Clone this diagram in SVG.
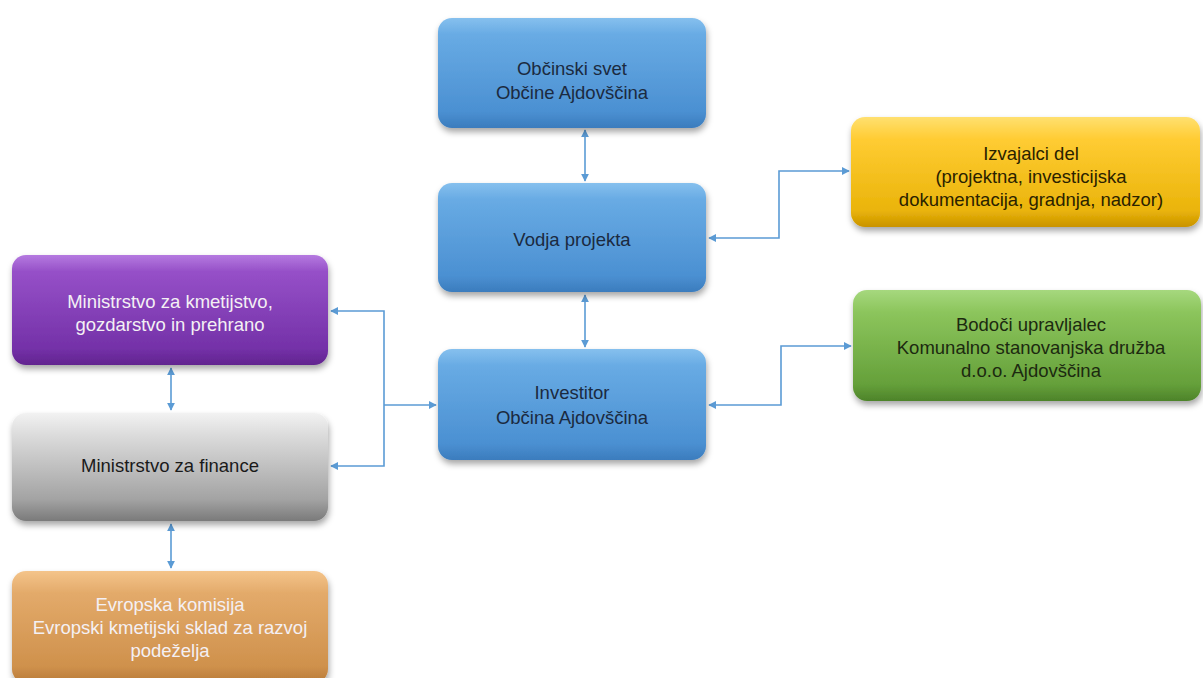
<svg xmlns="http://www.w3.org/2000/svg" width="1203" height="678" viewBox="0 0 1203 678">
<defs>
<style>
.t{font-family:"Liberation Sans",Arial,sans-serif;font-size:18.5px;text-anchor:middle}
.dk{fill:#1b2a40}
.lt{fill:#f4f0f4}
.c{fill:none;stroke:#5b9bd5;stroke-width:1.6}
</style>
<filter id="sh" x="-10%" y="-10%" width="120%" height="130%">
<feDropShadow dx="1" dy="4" stdDeviation="3" flood-color="#000" flood-opacity="0.35"/>
</filter>
<linearGradient id="gBlue" x1="0" y1="0" x2="0" y2="1">
<stop offset="0" stop-color="#86c0ee"/><stop offset="0.15" stop-color="#68abe4"/><stop offset="0.85" stop-color="#4b90d2"/><stop offset="1" stop-color="#3b7cbd"/>
</linearGradient>
<linearGradient id="gPurple" x1="0" y1="0" x2="0" y2="1">
<stop offset="0" stop-color="#b57ae0"/><stop offset="0.15" stop-color="#9650c8"/><stop offset="0.85" stop-color="#7431a8"/><stop offset="1" stop-color="#62248f"/>
</linearGradient>
<linearGradient id="gGray" x1="0" y1="0" x2="0" y2="1">
<stop offset="0" stop-color="#f2f2f2"/><stop offset="0.2" stop-color="#dcdcdc"/><stop offset="0.8" stop-color="#a3a3a3"/><stop offset="1" stop-color="#7a7a7a"/>
</linearGradient>
<linearGradient id="gYellow" x1="0" y1="0" x2="0" y2="1">
<stop offset="0" stop-color="#ffe070"/><stop offset="0.2" stop-color="#ffcc33"/><stop offset="0.85" stop-color="#eab40a"/><stop offset="1" stop-color="#c99300"/>
</linearGradient>
<linearGradient id="gGreen" x1="0" y1="0" x2="0" y2="1">
<stop offset="0" stop-color="#a6d87e"/><stop offset="0.2" stop-color="#8cc55c"/><stop offset="0.85" stop-color="#65a03a"/><stop offset="1" stop-color="#4d832a"/>
</linearGradient>
<linearGradient id="gOrange" x1="0" y1="0" x2="0" y2="1">
<stop offset="0" stop-color="#f4c48a"/><stop offset="0.2" stop-color="#e3aa6a"/><stop offset="0.85" stop-color="#cf914c"/><stop offset="1" stop-color="#b87a38"/>
</linearGradient>
<marker id="ah" viewBox="0 0 10 10" refX="9" refY="5" markerWidth="8" markerHeight="8" markerUnits="userSpaceOnUse" orient="auto-start-reverse">
<path d="M0,0 L10,5 L0,10 z" fill="#5b9bd5"/>
</marker>
</defs>
<rect width="1203" height="678" fill="#ffffff"/>

<g id="connectors">
<line class="c" x1="585" y1="130" x2="585" y2="181" marker-start="url(#ah)" marker-end="url(#ah)"/>
<line class="c" x1="585" y1="295" x2="585" y2="347" marker-start="url(#ah)" marker-end="url(#ah)"/>
<polyline class="c" points="709,238 779,238 779,171 849,171" marker-start="url(#ah)" marker-end="url(#ah)"/>
<polyline class="c" points="709,405 781,405 781,346 851,346" marker-start="url(#ah)" marker-end="url(#ah)"/>
<polyline class="c" points="331,311 384,311 384,466 331,466" marker-start="url(#ah)" marker-end="url(#ah)"/>
<polyline class="c" points="384,405 436,405" marker-end="url(#ah)"/>
<line class="c" x1="171" y1="368" x2="171" y2="410" marker-start="url(#ah)" marker-end="url(#ah)"/>
<line class="c" x1="171" y1="524" x2="171" y2="568" marker-start="url(#ah)" marker-end="url(#ah)"/>
</g>

<g id="n-svet">
<rect x="438" y="18" width="268" height="110" rx="14" fill="url(#gBlue)" filter="url(#sh)"/>
<text class="t dk" x="572" y="75">Občinski svet</text>
<text class="t dk" x="572" y="99">Občine Ajdovščina</text>
</g>

<g id="n-vodja">
<rect x="438" y="183" width="268" height="109" rx="14" fill="url(#gBlue)" filter="url(#sh)"/>
<text class="t dk" x="572" y="246">Vodja projekta</text>
</g>

<g id="n-investitor">
<rect x="438" y="349" width="268" height="111" rx="14" fill="url(#gBlue)" filter="url(#sh)"/>
<text class="t dk" x="572" y="399">Investitor</text>
<text class="t dk" x="572" y="424">Občina Ajdovščina</text>
</g>

<g id="n-izvajalci">
<rect x="851" y="117" width="349" height="110" rx="14" fill="url(#gYellow)" filter="url(#sh)"/>
<text class="t" fill="#2a2200" x="1031" y="160">Izvajalci del</text>
<text class="t" fill="#2a2200" x="1031" y="183">(projektna, investicijska</text>
<text class="t" fill="#2a2200" x="1031" y="206">dokumentacija, gradnja, nadzor)</text>
</g>

<g id="n-bodoci">
<rect x="853" y="290" width="348" height="111" rx="14" fill="url(#gGreen)" filter="url(#sh)"/>
<text class="t" fill="#1c2a10" x="1031" y="331">Bodoči upravljalec</text>
<text class="t" fill="#1c2a10" x="1031" y="354">Komunalno stanovanjska družba</text>
<text class="t" fill="#1c2a10" x="1031" y="377">d.o.o. Ajdovščina</text>
</g>

<g id="n-mkgp">
<rect x="12" y="255" width="316" height="110" rx="14" fill="url(#gPurple)" filter="url(#sh)"/>
<text class="t lt" x="170" y="308">Ministrstvo za kmetijstvo,</text>
<text class="t lt" x="170" y="331">gozdarstvo in prehrano</text>
</g>

<g id="n-mf">
<rect x="12" y="413" width="316" height="108" rx="14" fill="url(#gGray)" filter="url(#sh)"/>
<text class="t" fill="#1a1a1a" x="170" y="472">Ministrstvo za finance</text>
</g>

<g id="n-ek">
<rect x="12" y="571" width="316" height="112" rx="14" fill="url(#gOrange)" filter="url(#sh)"/>
<text class="t lt" x="170" y="611">Evropska komisija</text>
<text class="t lt" x="170" y="634">Evropski kmetijski sklad za razvoj</text>
<text class="t lt" x="170" y="657">podeželja</text>
</g>
</svg>
